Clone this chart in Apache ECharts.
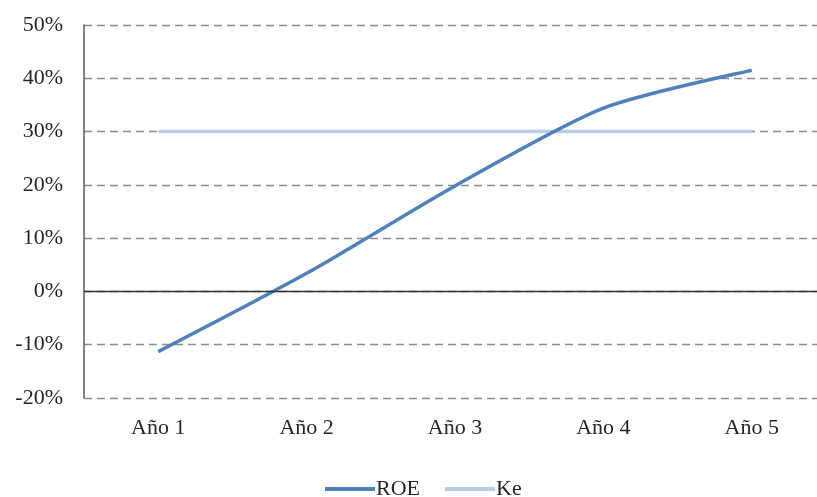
<!DOCTYPE html>
<html>
<head>
<meta charset="utf-8">
<script src="https://cdn.jsdelivr.net/npm/echarts@6/dist/echarts.min.js"></script>
<style>
  html, body { margin: 0; padding: 0; background: #fff; }
  #chart { width: 817px; height: 497px; }
</style>
</head>
<body>
<div id="chart"></div>
<script>
// Categories and series values (percent)
const years = ['Año 1', 'Año 2', 'Año 3', 'Año 4', 'Año 5'];
const roe = [-11.3, 3.4, 19.8, 34.4, 41.5];
const ke = [30, 30, 30, 30, 30];
const yTicks = { min: -20, max: 50, step: 10 };

const font = 'Liberation Serif, Times New Roman, serif';
const textColor = '#262626';
const chart = echarts.init(document.getElementById('chart'));

chart.setOption({
  animation: false,
  grid: {
    left: 84, top: 25, width: 742, bottom: 99,
    containLabel: false, outerBoundsMode: 'none'
  },
  legend: {
    top: 473,
    left: 320,
    itemWidth: 50,
    itemHeight: 4,
    itemGap: 25,
    icon: 'rect',
    textStyle: { fontFamily: font, fontSize: 22, color: textColor, padding: [0, 0, 0, -4] },
    data: ['ROE', 'Ke']
  },
  xAxis: {
    type: 'category',
    data: years,
    boundaryGap: true,
    axisLine: { show: false },
    axisTick: { show: false },
    axisLabel: { fontFamily: font, fontSize: 22, color: textColor, margin: 19 }
  },
  yAxis: {
    type: 'value',
    min: yTicks.min,
    max: yTicks.max,
    interval: yTicks.step,
    axisLine: { show: true, lineStyle: { color: '#595959', width: 1.5 } },
    axisTick: { show: false },
    axisLabel: {
      fontFamily: font, fontSize: 22, color: textColor, margin: 21,
      formatter: v => v + '%'
    },
    splitLine: { show: true, lineStyle: { color: '#8c8c8c', width: 1.3, type: [8, 5] } }
  },
  series: [
    {
      name: 'Ke',
      type: 'line',
      data: ke,
      symbol: 'none',
      lineStyle: { color: '#b9cde5', width: 3.5 },
      itemStyle: { color: '#b9cde5' },
      z: 2
    },
    {
      name: 'ROE',
      type: 'line',
      data: roe,
      smooth: 0.25,
      symbol: 'none',
      lineStyle: { color: '#4f81bd', width: 3.5 },
      itemStyle: { color: '#4f81bd' },
      z: 3,
      markLine: {
        silent: true,
        symbol: 'none',
        label: { show: false },
        lineStyle: { color: '#333', width: 1.3, type: 'solid' },
        data: [{ yAxis: 0 }]
      }
    }
  ]
});
</script>
</body>
</html>
